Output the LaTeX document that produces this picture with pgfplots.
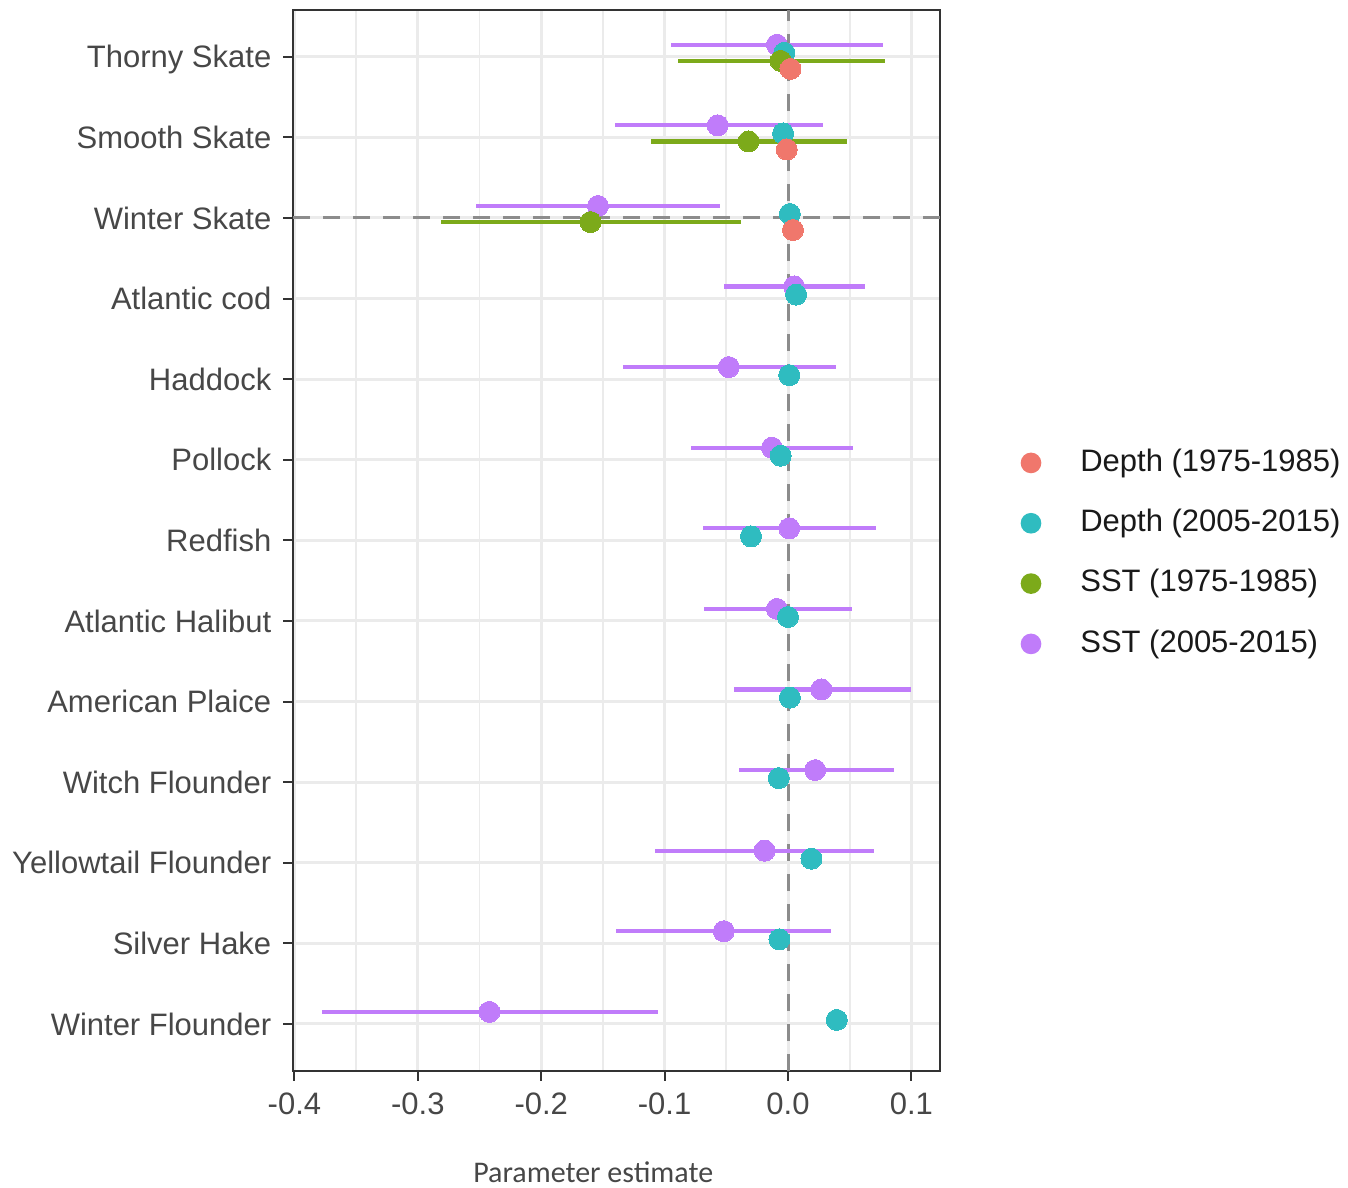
\documentclass[border=0pt]{standalone}
\usepackage{pgfplots}
\pgfplotsset{compat=1.18}
\usepackage{pgfplotstable}
\usepackage{fontspec}
\setmainfont{Liberation Sans}
\newfontfamily\carlito{Carlito}

\definecolor{cred}{HTML}{F0776C}
\definecolor{cteal}{HTML}{2FBCC0}
\definecolor{cgreen}{HTML}{7CAA1A}
\definecolor{cpurple}{HTML}{C07CFA}
\definecolor{gridc}{HTML}{EBEBEB}
\definecolor{refc}{HTML}{8C8C8C}

% SST (2005-2015): purple, dodge +0.15
\pgfplotstableread{
y x lo hi
13.15 -0.009 -0.095 0.077
12.15 -0.057 -0.140 0.028
11.15 -0.154 -0.253 -0.055
10.15 0.005 -0.052 0.062
9.15 -0.048 -0.134 0.039
8.15 -0.013 -0.079 0.053
7.15 0.001 -0.069 0.071
6.15 -0.009 -0.068 0.052
5.15 0.027 -0.044 0.0995
4.15 0.022 -0.040 0.086
3.15 -0.019 -0.108 0.070
2.15 -0.052 -0.139 0.035
1.15 -0.242 -0.378 -0.105
}\sstB

% Depth (2005-2015): teal, dodge +0.05
\pgfplotstableread{
y x
13.05 -0.003
12.05 -0.004
11.05 0.0015
10.05 0.0066
9.05 0.001
8.05 -0.006
7.05 -0.030
6.05 0.000
5.05 0.0015
4.05 -0.0075
3.05 0.019
2.05 -0.007
1.05 0.0395
}\depthB

% SST (1975-1985): green, dodge -0.05
\pgfplotstableread{
y x lo hi
12.95 -0.006 -0.089 0.079
11.95 -0.032 -0.111 0.048
10.95 -0.160 -0.281 -0.038
}\sstA

% Depth (1975-1985): red, dodge -0.15
\pgfplotstableread{
y x
12.85 0.002
11.85 -0.001
10.85 0.004
}\depthA

\begin{document}
\begin{tikzpicture}
\begin{axis}[
  scale only axis,
  width=194.1pt, height=318.2pt,
  xmin=-0.4011, xmax=0.1232, ymin=0.42, ymax=13.58,
  xtick={-0.4,-0.3,-0.2,-0.1,0,0.1},
  xticklabels={-0.4,-0.3,-0.2,-0.1,0.0,0.1},
  minor xtick={-0.35,-0.25,-0.15,-0.05,0.05},
  ytick={1,2,3,4,5,6,7,8,9,10,11,12,13},
  yticklabels={Winter Flounder,Silver Hake,Yellowtail Flounder,Witch Flounder,American Plaice,Atlantic Halibut,Redfish,Pollock,Haddock,Atlantic cod,Winter Skate,Smooth Skate,Thorny Skate},
  xmajorgrids, ymajorgrids, xminorgrids,
  major grid style={gridc, line width=0.9pt},
  minor grid style={gridc, line width=0.5pt},
  axis line style={draw=black!80, line width=0.6pt},
  tick align=outside, tick pos=left,
  major tick length=3pt, minor tick length=0pt,
  tick style={draw=black!80, line width=0.6pt},
  ticklabel style={font=\fontsize{9.3}{11}\selectfont, text=black!72},
  yticklabel style={text height=6.7pt, text depth=0pt},
  xlabel={Parameter estimate},
  xlabel style={font=\carlito\fontsize{9}{11}\selectfont, text=black!72, xshift=-7pt, yshift=-7.3pt},
  legend style={at={(1.1236,0.4877)}, anchor=west, draw=none, fill=none, inner sep=0pt,
    row sep=9.1pt, font=\fontsize{9.3}{11}\selectfont, text=black!90,
    nodes={inner sep=0pt, text height=7pt, text depth=2pt},
    /tikz/every odd column/.append style={column sep=11.7pt}},
  legend image code/.code={\fill[#1] (3pt,0pt) circle (3.1pt);},
  legend cell align=left,
]
\addlegendimage{draw=none, fill=cred}
\addlegendentry{Depth (1975-1985)}
\addlegendimage{draw=none, fill=cteal}
\addlegendentry{Depth (2005-2015)}
\addlegendimage{draw=none, fill=cgreen}
\addlegendentry{SST (1975-1985)}
\addlegendimage{draw=none, fill=cpurple}
\addlegendentry{SST (2005-2015)}

% reference lines
\addplot[forget plot, refc, line width=0.9pt, dash pattern=on 5pt off 4pt] coordinates {(0,0.42) (0,13.58)};
\addplot[forget plot, refc, line width=0.9pt, dash pattern=on 5pt off 4pt] coordinates {(-0.4011,11) (0.1232,11)};

% error bars
\addplot[forget plot, only marks, mark=none,
  error bars/.cd, x dir=both, x explicit, error mark=none,
  error bar style={draw=cpurple, line width=1.25pt}]
  table[x=x, y=y, x error plus expr=\thisrow{hi}-\thisrow{x}, x error minus expr=\thisrow{x}-\thisrow{lo}] {\sstB};
\addplot[forget plot, only marks, mark=none,
  error bars/.cd, x dir=both, x explicit, error mark=none,
  error bar style={draw=cgreen, line width=1.25pt}]
  table[x=x, y=y, x error plus expr=\thisrow{hi}-\thisrow{x}, x error minus expr=\thisrow{x}-\thisrow{lo}] {\sstA};

% points
\addplot[forget plot, only marks, mark=*, mark size=3.15pt, color=cpurple, mark options={fill=cpurple, draw=cpurple, line width=0pt}] table[x=x, y=y] {\sstB};
\addplot[forget plot, only marks, mark=*, mark size=3.15pt, color=cteal, mark options={fill=cteal, draw=cteal, line width=0pt}] table[x=x, y=y] {\depthB};
\addplot[forget plot, only marks, mark=*, mark size=3.15pt, color=cgreen, mark options={fill=cgreen, draw=cgreen, line width=0pt}] table[x=x, y=y] {\sstA};
\addplot[forget plot, only marks, mark=*, mark size=3.15pt, color=cred, mark options={fill=cred, draw=cred, line width=0pt}] table[x=x, y=y] {\depthA};

\coordinate (bbbl) at (axis cs:-0.6386,-1.035);
\coordinate (bbtr) at (axis cs:0.4538,13.705);
\end{axis}
\pgfresetboundingbox
\path[use as bounding box] (bbbl) rectangle (bbtr);
\end{tikzpicture}
\end{document}
